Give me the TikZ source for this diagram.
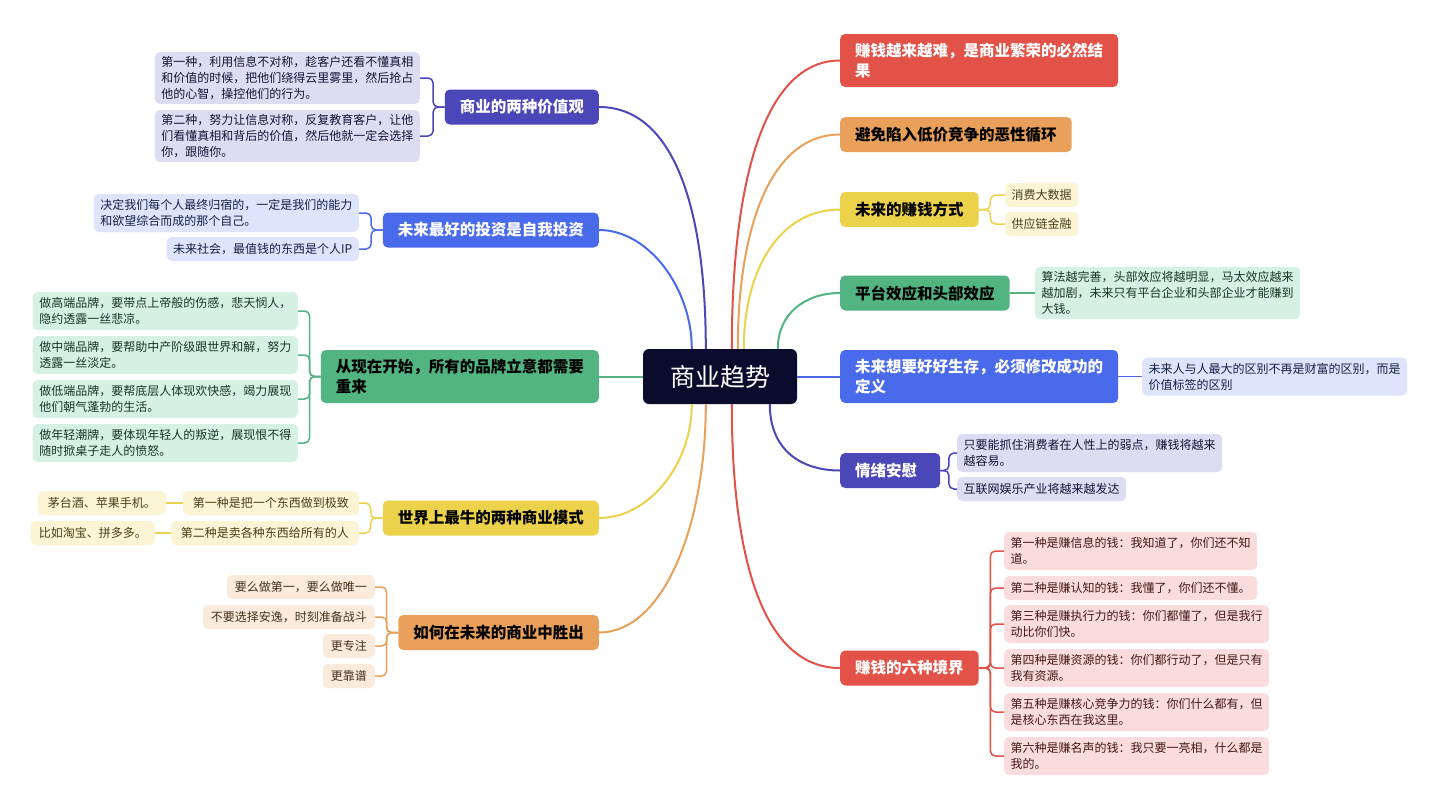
\documentclass[tikz,border=0pt]{standalone}
\usepackage{fontspec}
\setmainfont{Noto Sans CJK SC}
\usetikzlibrary{calc}
\definecolor{cInd}{HTML}{4B47B8}
\definecolor{cBlu}{HTML}{4A6AEC}
\definecolor{cGrn}{HTML}{52B480}
\definecolor{cYel}{HTML}{ECD24A}
\definecolor{cOra}{HTML}{E8A05A}
\definecolor{cRed}{HTML}{E25248}
\definecolor{cCen}{HTML}{0B0B2B}
\definecolor{lInd}{HTML}{DCDCF2}
\definecolor{lBlu}{HTML}{DDE4FB}
\definecolor{lGrn}{HTML}{D5F1E3}
\definecolor{lYel}{HTML}{FBF5D6}
\definecolor{lOra}{HTML}{FBEBDD}
\definecolor{lRed}{HTML}{F9DCDB}
\begin{document}
\begin{tikzpicture}[x=1pt,y=-1pt,
  mainL/.style={rounded corners=5pt, inner xsep=15pt, inner ysep=0pt, font=\fontsize{15.5}{19.5}\selectfont\bfseries, align=left},
  one/.style={minimum height=35pt},
  two/.style={minimum height=53pt},
  sub/.style={rounded corners=5pt, inner xsep=6.5pt, inner ysep=2pt, font=\fontsize{12}{16}\selectfont, align=left},
  subc/.style={sub, fill=l#1, text=c#1!30!black},
  s1/.style={minimum height=24pt},
  s2/.style={minimum height=38pt},
  s3/.style={minimum height=52pt},
  link/.style={line width=2pt},
  brk/.style={line width=1.5pt, rounded corners=5pt},
]
\fill[white] (0,0) rectangle (1440,796);
\useasboundingbox (0,0) rectangle (1440,796);

% central
\node[fill=cCen, text=white, rounded corners=6pt, minimum width=154pt, minimum height=55pt, inner sep=0pt, font=\fontsize{25}{30}\selectfont] (C) at (720,376.5) {商业趋势};

% left main nodes
\node[mainL, one, fill=cInd, text=white, anchor=east] (A) at (599,107) {商业的两种价值观};
\node[mainL, one, fill=cBlu, text=white, anchor=east] (B) at (599,230) {未来最好的投资是自我投资};
\node[mainL, two, fill=cGrn, text=black, anchor=east] (G0) at (599,376.5) {从现在开始，所有的品牌立意都需要\\重来};
\node[mainL, one, fill=cYel, text=black, anchor=east] (D) at (599,518) {世界上最牛的两种商业模式};
\node[mainL, one, fill=cOra, text=black, anchor=east] (E) at (599,632.5) {如何在未来的商业中胜出};

% right main nodes
\node[mainL, two, fill=cRed, text=white, anchor=west] (R1) at (840,60.5) {赚钱越来越难，是商业繁荣的必然结\\果};
\node[mainL, one, fill=cOra, text=black, anchor=west] (R2) at (840,134.5) {避免陷入低价竞争的恶性循环};
\node[mainL, one, fill=cYel, text=black, anchor=west] (R3) at (840,209.5) {未来的赚钱方式};
\node[mainL, one, fill=cGrn, text=black, anchor=west] (R4) at (840,293) {平台效应和头部效应};
\node[mainL, two, fill=cBlu, text=white, anchor=west] (R5) at (840,376.5) {未来想要好好生存，必须修改成功的\\定义};
\node[mainL, one, fill=cInd, text=white, anchor=west, text width=70pt] (R6) at (840,470.5) {情绪安慰};
\node[mainL, one, fill=cRed, text=white, anchor=west] (R7) at (840,668) {赚钱的六种境界};

% left sub nodes
\node[subc=Ind, s3, anchor=east] (A1) at (420,78) {第一种，利用信息不对称，趁客户还看不懂真相\\和价值的时候，把他们绕得云里雾里，然后抢占\\他的心智，操控他们的行为。};
\node[subc=Ind, s3, anchor=east] (A2) at (420,136) {第二种，努力让信息对称，反复教育客户，让他\\们看懂真相和背后的价值，然后他就一定会选择\\你，跟随你。};
\node[subc=Blu, s2, anchor=east] (B1) at (359,213) {决定我们每个人最终归宿的，一定是我们的能力\\和欲望综合而成的那个自己。};
\node[subc=Blu, s1, anchor=east] (B2) at (359,249) {未来社会，最值钱的东西是个人IP};
\node[subc=Grn, s2, anchor=east] (G1) at (298,311) {做高端品牌，要带点上帝般的伤感，悲天悯人，\\隐约透露一丝悲凉。};
\node[subc=Grn, s2, anchor=east] (G2) at (298,355) {做中端品牌，要帮助中产阶级跟世界和解，努力\\透露一丝淡定。};
\node[subc=Grn, s2, anchor=east] (G3) at (298,399) {做低端品牌，要帮底层人体现欢快感，竭力展现\\他们朝气蓬勃的生活。};
\node[subc=Grn, s2, anchor=east] (G4) at (298,443) {做年轻潮牌，要体现年轻人的叛逆，展现恨不得\\随时掀桌子走人的愤怒。};
\node[subc=Yel, s1, anchor=east, inner xsep=10pt] (D1) at (359,503) {第一种是把一个东西做到极致};
\node[subc=Yel, s1, anchor=east, inner xsep=10pt] (D2) at (359,533) {第二种是卖各种东西给所有的人};
\node[subc=Yel, s1, anchor=east, inner xsep=10pt] (D1g) at (166,503) {茅台酒、苹果手机。};
\node[subc=Yel, s1, anchor=east, inner xsep=8pt] (D2g) at (155,533) {比如淘宝、拼多多。};
\node[subc=Ora, s1, anchor=east, inner xsep=8pt] (E1) at (375,587) {要么做第一，要么做唯一};
\node[subc=Ora, s1, anchor=east, inner xsep=8pt] (E2) at (375,617) {不要选择安逸，时刻准备战斗};
\node[subc=Ora, s1, anchor=east, inner xsep=8pt] (E3) at (375,646) {更专注};
\node[subc=Ora, s1, anchor=east, inner xsep=8pt] (E4) at (375,676) {更靠谱};

% right sub nodes
\node[subc=Yel, s1, anchor=west] (F1) at (1005,195) {消费大数据};
\node[subc=Yel, s1, anchor=west] (F2) at (1005,224) {供应链金融};
\node[subc=Grn, s3, anchor=west] (P1) at (1035,293) {算法越完善，头部效应将越明显，马太效应越来\\越加剧，未来只有平台企业和头部企业才能赚到\\大钱。};
\node[subc=Blu, s2, anchor=west] (H1) at (1142,376.5) {未来人与人最大的区别不再是财富的区别，而是\\价值标签的区别};
\node[subc=Ind, s2, anchor=west] (I1) at (957,453) {只要能抓住消费者在人性上的弱点，赚钱将越来\\越容易。};
\node[subc=Ind, s1, anchor=west] (I2) at (957,489) {互联网娱乐产业将越来越发达};
\node[subc=Red, s2, anchor=west] (J1) at (1004,551) {第一种是赚信息的钱：我知道了，你们还不知\\道。};
\node[subc=Red, s1, anchor=west] (J2) at (1004,588) {第二种是赚认知的钱：我懂了，你们还不懂。};
\node[subc=Red, s2, anchor=west] (J3) at (1004,624) {第三种是赚执行力的钱：你们都懂了，但是我行\\动比你们快。};
\node[subc=Red, s2, anchor=west] (J4) at (1004,668) {第四种是赚资源的钱：你们都行动了，但是只有\\我有资源。};
\node[subc=Red, s2, anchor=west] (J5) at (1004,712) {第五种是赚核心竞争力的钱：你们什么都有，但\\是核心东西在我这里。};
\node[subc=Red, s2, anchor=west] (J6) at (1004,756) {第六种是赚名声的钱：我只要一亮相，什么都是\\我的。};

% central links
\draw[link, cInd] ($(C.north west)+(63,0)$) .. controls +(0,-140) and +(75,0) .. (A.east);
\draw[link, cBlu] ($(C.north west)+(49,0)$) .. controls +(0,-60) and +(50,0) .. (B.east);
\draw[link, cGrn] (C.west) -- (G0.east);
\draw[link, cYel] ($(C.south west)+(49,0)$) .. controls +(0,60) and +(50,0) .. (D.east);
\draw[link, cOra] ($(C.south west)+(63,0)$) .. controls +(0,120) and +(65,0) .. (E.east);
\draw[link, cRed] ($(C.north west)+(89,0)$) .. controls +(0,-170) and +(-75,0) .. (R1.west);
\draw[link, cOra] ($(C.north west)+(95,0)$) .. controls +(0,-120) and +(-70,0) .. (R2.west);
\draw[link, cYel] ($(C.north west)+(101,0)$) .. controls +(0,-80) and +(-60,0) .. (R3.west);
\draw[link, cGrn] ($(C.north west)+(135,0)$) .. controls +(0,-35) and +(-35,0) .. (R4.west);
\draw[link, cBlu] (C.east) -- (R5.west);
\draw[link, cInd] ($(C.south west)+(127,0)$) .. controls +(0,45) and +(-40,0) .. (R6.west);
\draw[link, cRed] ($(C.south west)+(89,0)$) .. controls +(0,160) and +(-75,0) .. (R7.west);

% sub links left
\foreach \c in {A1,A2} \draw[brk, cInd] (A.west) -- ++(-11.5,0) |- (\c.east);
\foreach \c in {B1,B2} \draw[brk, cBlu] (B.west) -- ++(-11.5,0) |- (\c.east);
\foreach \c in {G1,G2,G3,G4} \draw[brk, cGrn] (G0.west) -- ++(-11,0) |- (\c.east);
\foreach \c in {D1,D2} \draw[brk, cYel] (D.west) -- ++(-12,0) |- (\c.east);
\foreach \c in {E1,E2,E3,E4} \draw[brk, cOra] (E.west) -- ++(-11.5,0) |- (\c.east);
\draw[line width=1.5pt, cYel] (D1.west) -- (D1g.east);
\draw[line width=1.5pt, cYel] (D2.west) -- (D2g.east);

% sub links right
\foreach \c in {F1,F2} \draw[brk, cYel] (R3.east) -- ++(11.5,0) |- (\c.west);
\draw[line width=1.5pt, cGrn] (R4.east) -- (P1.west);
\draw[line width=1.5pt, cBlu] (R5.east) -- (H1.west);
\foreach \c in {I1,I2} \draw[brk, cInd] (R6.east) -- ++(8.5,0) |- (\c.west);
\foreach \c in {J1,J2,J3,J4,J5,J6} \draw[brk, cRed] (R7.east) -- ++(11.5,0) |- (\c.west);
\end{tikzpicture}
\end{document}
